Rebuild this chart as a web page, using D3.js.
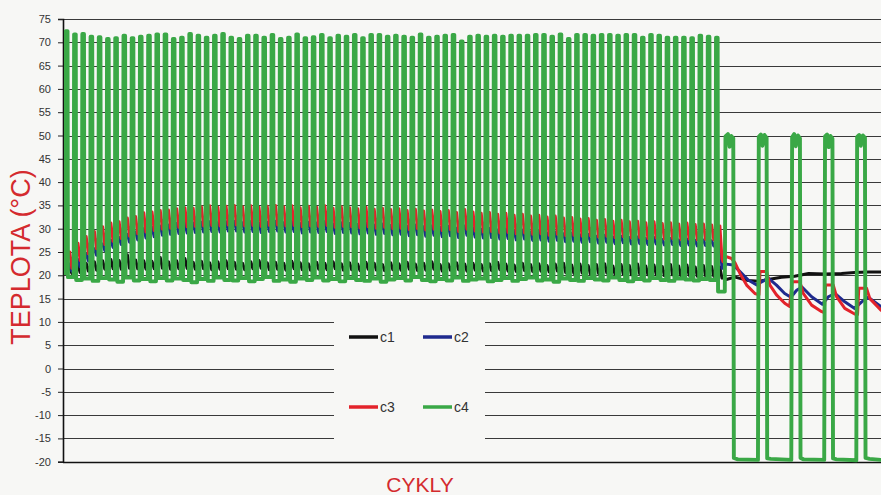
<!DOCTYPE html>
<html>
<head>
<meta charset="utf-8">
<script src="https://cdn.jsdelivr.net/npm/d3@7"></script>
<style>
body{margin:0;background:#f7f7f5;}
svg{display:block;font-family:Arial, "Liberation Sans", sans-serif;}
</style>
</head>
<body>
<svg id="chart" width="881" height="495"></svg>
<script>

var yTicks = [75,70,65,60,55,50,45,40,35,30,25,20,15,10,5,0,-5,-10,-15,-20];
var seriesNames = ['c1','c2','c3','c4'];
var seriesColors = ['#111111','#1f2a8e','#e3232b','#3aa846'];

// phase 1: 80 fast cycles, one peak and one trough per cycle
var startValues = [20.8, 20.6, 20.9, 20.5];

var c4Peak1 = [72.4,71.7,71.8,71.2,71.1,70.7,70.9,71.4,70.9,71.2,
	71.4,71.7,71.7,70.7,71.0,71.8,71.4,71.0,71.4,71.8,
	71.0,70.7,71.4,71.4,71.0,71.6,70.7,71.0,71.7,70.9,
	71.1,71.6,70.9,71.4,71.2,71.6,70.9,71.6,71.6,71.2,
	71.4,71.2,71.0,71.7,71.0,71.2,71.4,71.6,70.2,71.2,
	71.4,71.2,71.4,71.2,71.4,71.4,71.4,71.6,71.6,71.2,
	71.7,70.7,71.6,71.6,71.4,71.6,71.6,71.4,71.6,71.6,
	71.0,71.6,71.4,71.0,71.0,71.0,70.9,71.4,71.2,71.0];
var c4Trough1 = [19.6,19.0,19.3,18.8,19.4,19.1,18.6,19.5,18.9,19.2,
	18.7,19.4,18.9,19.3,19.0,18.5,19.2,18.8,19.5,19.0,
	18.9,19.4,18.7,19.2,19.6,18.8,19.1,18.6,19.3,19.0,
	19.5,18.9,19.2,18.7,19.4,19.0,18.8,19.3,18.6,19.1,
	19.4,18.9,19.6,19.0,18.7,19.2,18.9,19.5,18.8,19.1,
	19.3,18.7,19.0,19.4,18.8,19.2,19.5,18.9,19.1,18.6,
	19.3,19.0,18.8,19.4,19.1,18.9,19.5,19.0,18.7,19.2,
	18.9,19.4,19.0,18.8,19.3,19.1,18.9,19.2,19.0,16.5];

var c3Peak1 = [25.0,26.9,28.3,29.4,30.4,31.2,31.5,32.3,32.6,33.4,
	33.6,33.9,34.0,34.3,34.5,34.4,34.7,34.9,34.6,34.8,
	35.0,34.7,34.9,34.6,34.8,35.0,34.7,34.9,34.5,34.8,
	34.6,34.9,34.4,34.7,34.5,34.3,34.6,34.2,34.4,34.1,
	34.3,33.9,34.2,33.8,34.0,33.7,33.9,33.5,34.1,33.6,
	33.3,33.5,33.1,33.3,32.9,33.1,32.7,32.9,32.5,32.7,
	32.3,32.4,32.1,32.2,31.8,32.0,31.6,31.8,31.5,31.6,
	31.3,31.5,31.1,31.3,31.0,31.2,30.9,31.0,30.8,30.6];
var c3Trough1 = [21.5,23.2,24.6,25.7,26.6,27.3,27.9,28.4,28.9,29.3,
	29.6,29.9,30.1,30.3,30.4,30.5,30.6,30.7,30.6,30.8,
	30.8,30.6,30.7,30.5,30.7,30.8,30.6,30.7,30.4,30.6,
	30.5,30.7,30.3,30.5,30.4,30.2,30.4,30.1,30.3,30.0,
	30.1,29.8,30.0,29.7,29.9,29.6,29.8,29.4,29.9,29.5,
	29.3,29.4,29.1,29.2,28.9,29.1,28.8,28.9,28.6,28.8,
	28.5,28.6,28.4,28.5,28.2,28.4,28.1,28.3,28.0,28.1,
	27.9,28.0,27.8,27.9,27.7,27.8,27.6,27.7,27.6,23.5];

var c2Peak1 = [22.4,23.4,24.6,25.7,26.7,27.5,28.1,28.8,29.3,30.0,
	30.3,30.6,30.8,31.1,31.2,31.2,31.4,31.5,31.3,31.5,
	31.6,31.3,31.5,31.2,31.4,31.6,31.3,31.5,31.1,31.4,
	31.2,31.5,31.0,31.3,31.1,30.9,31.2,30.8,31.0,30.7,
	30.9,30.5,30.8,30.4,30.6,30.3,30.5,30.1,30.6,30.2,
	29.9,30.1,29.7,29.9,29.5,29.7,29.3,29.5,29.1,29.3,
	28.9,29.0,28.7,28.8,28.4,28.6,28.2,28.4,28.1,28.2,
	27.9,28.1,27.7,27.9,27.6,27.8,27.5,27.6,27.4,27.2];
var c2Trough1 = [20.9,21.8,23.1,24.3,25.3,26.0,26.6,27.1,27.6,28.0,
	28.3,28.6,28.8,29.0,29.1,29.2,29.3,29.4,29.3,29.5,
	29.5,29.3,29.4,29.2,29.4,29.5,29.3,29.4,29.1,29.3,
	29.2,29.4,29.0,29.2,29.1,28.9,29.1,28.8,29.0,28.7,
	28.8,28.5,28.7,28.4,28.6,28.3,28.5,28.1,28.6,28.2,
	28.0,28.1,27.8,27.9,27.6,27.8,27.5,27.6,27.3,27.5,
	27.2,27.3,27.1,27.2,26.9,27.1,26.8,27.0,26.7,26.8,
	26.6,26.7,26.5,26.6,26.4,26.5,26.3,26.4,26.3,21.5];

var c1Peak1 = [21.6,22.1,22.6,22.9,23.1,23.4,23.2,24.4,23.3,23.1,
	23.0,23.8,22.9,23.1,23.6,22.8,23.0,22.7,22.9,23.1,
	22.8,22.6,22.9,23.2,22.7,22.8,22.6,23.0,22.7,22.5,
	22.8,22.6,22.9,22.5,22.7,22.4,22.8,22.6,22.3,22.7,
	22.5,22.8,22.4,22.6,22.9,22.3,22.5,22.7,22.4,22.6,
	22.3,22.5,22.8,22.4,22.2,22.6,22.3,22.5,22.1,22.4,
	22.6,22.2,22.4,22.1,22.3,22.5,22.0,22.3,22.1,22.4,
	22.0,22.2,21.9,22.3,22.0,22.2,21.8,22.1,21.9,21.8];
var c1Trough1 = [20.4,20.6,20.9,21.1,21.3,21.4,21.3,21.5,21.4,21.3,
	21.4,21.5,21.3,21.4,21.5,21.3,21.4,21.2,21.3,21.4,
	21.3,21.2,21.4,21.5,21.2,21.3,21.1,21.4,21.2,21.1,
	21.3,21.2,21.4,21.1,21.2,21.0,21.3,21.1,21.0,21.2,
	21.1,21.3,21.0,21.1,21.3,20.9,21.1,21.2,20.9,21.1,
	20.9,21.0,21.2,20.9,20.8,21.0,20.8,20.9,20.7,20.9,
	20.6,20.4,20.5,20.3,20.4,20.5,20.2,20.3,20.1,20.3,
	20.1,20.2,19.9,20.1,19.9,20.0,19.8,19.9,19.8,19.4];

// phase 2: slow freeze / thaw cycles, read point by point (time in fast-cycle units)
var c4Phase2T = [80.42,80.5,80.8,81.0,81.2,81.45,81.52,82.0,
	84.45,84.55,84.8,85.0,85.25,85.5,85.57,86.0,
	88.5,88.6,88.85,89.05,89.3,89.55,89.62,90.0,
	92.5,92.6,92.85,93.05,93.25,93.5,93.57,94.0,
	96.4,96.5,96.75,96.95,97.2,97.45,97.52,98.0,99.4];
var c4Phase2V = [16.5,49.8,50.3,47.6,49.9,49.4,-19.2,-19.5,
	-19.6,49.7,50.2,47.8,50.1,49.5,-19.3,-19.4,
	-19.6,49.6,50.3,47.7,50.0,49.4,-19.2,-19.5,
	-19.6,49.8,50.2,47.5,49.9,49.3,-19.3,-19.5,
	-19.7,49.7,50.1,47.8,50.0,49.5,-19.2,-19.4,-19.6];

var c3Phase2T = [80.2,80.6,81.25,81.65,82.26,83.07,84.08,84.57,84.7,85.5,85.9,86.7,87.7,88.3,
	88.6,89.55,89.95,90.97,92.2,92.5,92.67,93.6,94.0,95.0,96.2,96.55,96.7,97.65,98.05,99.4];
var c3Phase2V = [22.9,24.0,23.6,22.7,20.4,17.9,16.1,15.8,20.8,20.8,17.9,15.8,14.0,13.3,
	18.6,18.6,16.1,13.6,12.2,12.0,17.9,17.9,15.4,12.9,11.7,11.6,17.2,17.2,15.0,12.5];

var c2Phase2T = [80.2,80.6,81.45,82.26,83.27,84.3,84.9,85.7,86.7,87.7,88.45,
	89.15,89.8,90.97,92.27,93.0,93.8,95.0,96.2,97.05,97.85,99.4];
var c2Phase2V = [21.5,22.4,22.2,20.8,19.0,17.9,18.6,19.4,17.9,16.1,15.3,
	16.8,17.5,15.4,13.8,15.4,16.1,14.3,12.9,14.3,15.3,13.3];

var c1Phase2T = [80.2,80.6,81.65,83.27,84.5,85.7,87.3,88.9,90.6,92.6,94.6,96.2,97.85,99.4];
var c1Phase2V = [19.4,19.1,19.6,18.9,18.7,19.1,19.6,19.8,20.4,20.3,20.4,20.6,20.7,20.7];

var yLabel = 'TEPLOTA (°C)';
var xLabel = 'CYKLY';

// shape of one fast cycle: [offset inside cycle, which value]
var chamberShape = [[0.3,'prev'],[0.35,'peak'],[0.55,'peak'],[0.6,'trough']];
var sampleShape = [[0.55,'peak'],[0.82,'peak'],[1.08,'trough']];

function buildSeries(start, peaks, troughs, shape, tList, vList){
	var pts = [[0,start]];
	peaks.forEach(function(p,k){
		var prev = k==0 ? start : troughs[k-1];
		shape.forEach(function(s){
			var v = s[1]=='peak' ? p : (s[1]=='trough' ? troughs[k] : prev);
			pts.push([k+s[0], v]);
		});
	});
	tList.forEach(function(t,i){ pts.push([t, vList[i]]); });
	return pts;
}

var series = [
	buildSeries(startValues[0], c1Peak1, c1Trough1, sampleShape, c1Phase2T, c1Phase2V),
	buildSeries(startValues[1], c2Peak1, c2Trough1, sampleShape, c2Phase2T, c2Phase2V),
	buildSeries(startValues[2], c3Peak1, c3Trough1, sampleShape, c3Phase2T, c3Phase2V),
	buildSeries(startValues[3], c4Peak1, c4Trough1, chamberShape, c4Phase2T, c4Phase2V)
];
var strokeWidths = [3, 3, 3, 3.9];

var margin = {left:63, top:19, right:0, bottom:33};
var width = 881, height = 495;

var x = d3.scaleLinear().domain([0,99.4]).range([margin.left, width]);
var y = d3.scaleLinear().domain([-20,75]).range([height-margin.bottom-0.3, margin.top]);

var svg = d3.select('#chart');

svg.append('defs').append('clipPath').attr('id','plotClip')
	.append('rect')
	.attr('x',margin.left+1).attr('y',0)
	.attr('width',width-margin.left).attr('height',height);

// grid
svg.append('g').attr('class','grid')
	.selectAll('line').data(yTicks)
	.enter().append('line')
	.attr('x1',margin.left).attr('x2',width)
	.attr('y1',function(d){return Math.round(y(d))+0.5})
	.attr('y2',function(d){return Math.round(y(d))+0.5})
	.attr('stroke',function(d){return d==-20 ? '#111' : '#3a3a3a'})
	.attr('stroke-width',function(d){return d==-20 ? 1.6 : 1});

// legend background hides grid under it
svg.append('rect')
	.attr('x',334).attr('y',306).attr('width',151).attr('height',146)
	.attr('fill','#f7f7f5');

// y axis
var yAxis = d3.axisLeft(y).tickValues(yTicks).tickSize(5).tickPadding(7)
	.tickFormat(function(d){return String(d)});
var axisG = svg.append('g')
	.attr('transform','translate('+margin.left+',0)')
	.call(yAxis);
axisG.select('.domain').attr('stroke','#111').attr('stroke-width',1.6);
axisG.selectAll('.tick line').attr('stroke','#222');
axisG.selectAll('.tick text')
	.attr('fill','#333')
	.style('font-size','11px')
	.style('font-family','Arial, "Liberation Sans", sans-serif');

// series
var line = d3.line()
	.x(function(d){return x(d[0])})
	.y(function(d){return y(d[1])});

svg.append('g').attr('clip-path','url(#plotClip)')
	.selectAll('path').data(series)
	.enter().append('path')
	.attr('d',line)
	.attr('fill','none')
	.attr('stroke',function(d,i){return seriesColors[i]})
	.attr('stroke-width',function(d,i){return strokeWidths[i]})
	.attr('stroke-linejoin','round')
	.attr('stroke-linecap','round');

// legend
var legendPos = [[349,337],[423,337],[349,407],[423,407]];
var legend = svg.append('g').selectAll('g').data(seriesNames)
	.enter().append('g')
	.attr('transform',function(d,i){return 'translate('+legendPos[i][0]+','+legendPos[i][1]+')'});
legend.append('line')
	.attr('x1',0).attr('x2',29).attr('y1',0).attr('y2',0)
	.attr('stroke',function(d,i){return seriesColors[i]})
	.attr('stroke-width',3.5);
legend.append('text')
	.attr('x',31).attr('y',5)
	.attr('fill','#333')
	.style('font-size','14px')
	.text(function(d){return d});

// axis titles
svg.append('text')
	.attr('transform','translate(30,257) rotate(-90)')
	.attr('text-anchor','middle')
	.attr('fill','#d42a2e')
	.style('font-size','27px')
	.text(yLabel);

svg.append('text')
	.attr('x',420).attr('y',492)
	.attr('text-anchor','middle')
	.attr('fill','#d42a2e')
	.style('font-size','21px')
	.text(xLabel);

</script>
</body>
</html>
